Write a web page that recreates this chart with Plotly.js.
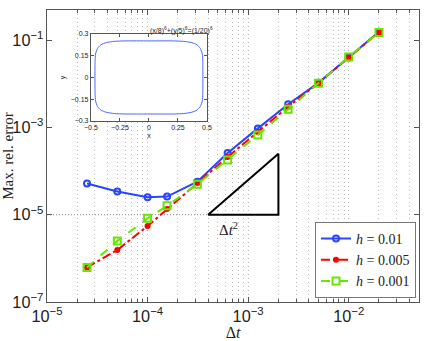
<!DOCTYPE html>
<html>
<head>
<meta charset="utf-8">
<script src="https://cdn.plot.ly/plotly-3.0.1.min.js"></script>
<style>
  html, body { margin: 0; padding: 0; background: #fff; }
  #plot { width: 425px; height: 341px; }
</style>
</head>
<body>
<div id="plot"></div>
<script>
// time steps
var dt = [2.5e-5, 5e-5, 1e-4, 1.5625e-4, 3.125e-4, 6.25e-4, 1.25e-3, 2.5e-3, 5e-3, 1e-2, 2e-2];

// max relative error for each mesh size h
var errH01 = [5.2e-5, 3.4e-5, 2.5e-5, 2.6e-5, 5.7e-5, 2.6e-4, 9.5e-4, 3.4e-3, 1.05e-2, 4.0e-2, 1.55e-1];
var errH005 = [6.2e-7, 1.55e-6, 5.5e-6, 1.35e-5, 5.4e-5, 2.1e-4, 7.9e-4, 2.95e-3, 1.04e-2, 4.0e-2, 1.52e-1];
var errH001 = [6.2e-7, 2.5e-6, 8.3e-6, 1.6e-5, 5.0e-5, 1.8e-4, 6.7e-4, 2.6e-3, 1.03e-2, 4.1e-2, 1.5e-1];

// slope-2 guide triangle
var triX = [4e-4, 2e-3, 2e-3, 4e-4];
var triY = [1e-5, 1e-5, 2.5e-4, 1e-5];
var refX = [1e-5, 4e-4];
var refY = [1e-5, 1e-5];

// inset: boundary of the domain
var shapeX = [0.465, 0.464, 0.460, 0.443, 0.414, 0.369, 0.296, 0.206, 0, -0.206, -0.296, -0.369, -0.414, -0.443, -0.460, -0.464,
  -0.465, -0.464, -0.460, -0.443, -0.414, -0.369, -0.296, -0.206, 0, 0.206, 0.296, 0.369, 0.414, 0.443, 0.460, 0.464, 0.465];
var shapeY = [0, 0.112, 0.161, 0.200, 0.225, 0.240, 0.249, 0.252, 0.252, 0.252, 0.249, 0.240, 0.225, 0.200, 0.161, 0.112,
  0, -0.112, -0.161, -0.200, -0.225, -0.240, -0.249, -0.252, -0.252, -0.252, -0.249, -0.240, -0.225, -0.200, -0.161, -0.112, 0];
var insetXTicks = [-0.5, -0.25, 0, 0.25, 0.5];
var insetYTicks = [-0.3, -0.15, 0, 0.15, 0.3];

var blue = '#2846ff';
var red = '#ff0000';
var green = '#66e600';

var refLine = {
  x: refX, y: refY, mode: 'lines', showlegend: false, hoverinfo: 'skip',
  line: { color: '#888', width: 1, dash: '1px,2px' }
};

var traceH01 = {
  x: dt, y: errH01, name: '<i>h</i> = 0.01', mode: 'lines+markers',
  line: { color: blue, width: 2 },
  marker: { symbol: 'circle-open', size: 6, color: blue, line: { width: 2 } }
};

var traceH005 = {
  x: dt, y: errH005, name: '<i>h</i> = 0.005', mode: 'lines+markers',
  line: { color: red, width: 2, dash: 'dashdot' },
  marker: { symbol: 'circle', size: 6, color: red }
};

var traceH001 = {
  x: dt, y: errH001, name: '<i>h</i> = 0.001', mode: 'lines+markers',
  line: { color: green, width: 2, dash: 'dash' },
  marker: { symbol: 'square-open', size: 7, color: green, line: { width: 2 } }
};

var triangle = {
  x: triX, y: triY, mode: 'lines', showlegend: false, hoverinfo: 'skip',
  line: { color: '#000', width: 2 }
};

var inset = {
  x: shapeX, y: shapeY, xaxis: 'x2', yaxis: 'y2', mode: 'lines', showlegend: false,
  line: { color: '#4a68ff', width: 1, shape: 'spline', smoothing: 0.6 }
};

var data = [refLine, traceH01, traceH005, traceH001, triangle, inset];

var axisColor = '#555';
var gridColor = '#b8b8b8';

var layout = {
  width: 425,
  height: 341,
  margin: { l: 47, r: 6, t: 10, b: 39 },
  paper_bgcolor: '#fff',
  plot_bgcolor: '#fff',
  font: { family: 'Liberation Sans, Arial, sans-serif', size: 13, color: '#222' },
  showlegend: true,
  xaxis: {
    type: 'log',
    range: [-5, Math.log10(0.05)],
    dtick: 1,
    exponentformat: 'power',
    showline: true, linecolor: axisColor, linewidth: 1, mirror: 'ticks',
    ticks: 'inside', ticklen: 5, tickcolor: axisColor,
    showgrid: true, gridcolor: gridColor, griddash: '1px,3px', gridwidth: 1,
    minor: { dtick: 'D1', ticks: 'inside', ticklen: 3, tickcolor: axisColor,
             showgrid: true, gridcolor: gridColor, griddash: '1px,3px', gridwidth: 1 },
    zeroline: false,
    title: { text: 'Δ<i>t</i>', font: { family: 'Liberation Serif, DejaVu Serif, serif', size: 16, color: '#222' }, standoff: 4 }
  },
  yaxis: {
    type: 'log',
    range: [-7, -0.31],
    tick0: -1,
    dtick: 2,
    exponentformat: 'power',
    showline: true, linecolor: axisColor, linewidth: 1, mirror: 'ticks',
    ticks: 'inside', ticklen: 5, tickcolor: axisColor,
    showgrid: false, zeroline: false,
    title: { text: 'Max. rel. error', font: { family: 'Liberation Serif, DejaVu Serif, serif', size: 15, color: '#222' }, standoff: 6 }
  },
  xaxis2: {
    domain: [0.118, 0.430], anchor: 'y2',
    range: [-0.5, 0.5], tickvals: insetXTicks,
    showline: true, linecolor: axisColor, mirror: 'ticks',
    ticks: 'inside', ticklen: 3, tickcolor: axisColor,
    showgrid: false, zeroline: false,
    tickfont: { size: 7 },
    title: { text: 'x', font: { size: 7 }, standoff: 2 }
  },
  yaxis2: {
    domain: [0.620, 0.918], anchor: 'x2',
    range: [-0.3, 0.3], tickvals: insetYTicks,
    showline: true, linecolor: axisColor, mirror: 'ticks',
    ticks: 'inside', ticklen: 3, tickcolor: axisColor,
    showgrid: false, zeroline: false,
    tickfont: { size: 7 },
    title: { text: 'y', font: { size: 7 }, standoff: 4 }
  },
  legend: {
    x: 0.992, y: 0.014, xanchor: 'right', yanchor: 'bottom',
    bgcolor: '#fff', bordercolor: '#777', borderwidth: 1,
    font: { family: 'Liberation Serif, DejaVu Serif, serif', size: 14, color: '#222' },
    itemwidth: 30, tracegroupgap: 0
  },
  annotations: [
    {
      text: 'Δ<i>t</i><sup>2</sup>', xref: 'x', yref: 'y', x: -3.2, y: -5.33,
      showarrow: false, font: { family: 'Liberation Serif, DejaVu Serif, serif', size: 15, color: '#222' }
    },
    {
      text: '(x/8)<sup>6</sup>+(y/5)<sup>6</sup>=(1/20)<sup>6</sup>', xref: 'paper', yref: 'paper',
      x: 0.272, y: 0.952, showarrow: false, font: { size: 7, color: '#222' }
    }
  ]
};

Plotly.newPlot('plot', data, layout, { displayModeBar: false, staticPlot: true });
</script>
</body>
</html>
